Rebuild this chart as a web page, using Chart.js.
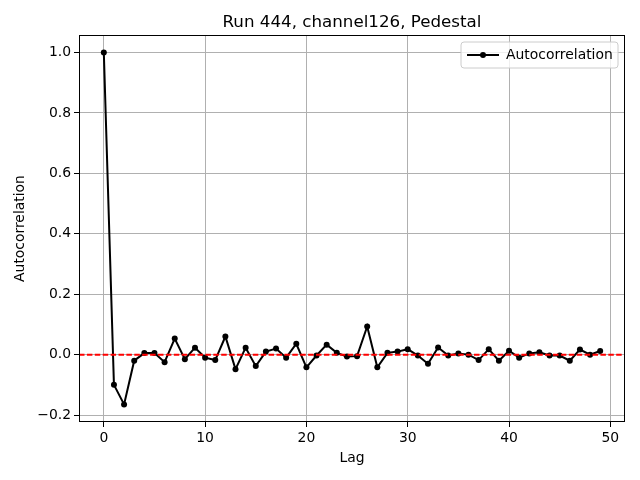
<!DOCTYPE html>
<html lang="en">
<head>
  <meta charset="UTF-8" />
  <title>Run 444, channel126, Pedestal</title>
  <script src="https://cdn.jsdelivr.net/npm/chart.js"></script>
  <style>
    html, body { margin: 0; padding: 0; background: #fff; }
    #wrap { width: 640px; height: 480px; }
  </style>
</head>
<body>
  <div id="wrap"><canvas id="acf" width="640" height="480"></canvas></div>

  <script>
    // autocorrelation values, lag 0..49
    const lags = Array.from({ length: 50 }, (_, i) => i);
    const autocorr = [
      1.0, -0.10, -0.165, -0.02, 0.005, 0.005, -0.025, 0.053, -0.015, 0.023,
      -0.01, -0.018, 0.06, -0.048, 0.023, -0.038, 0.01, 0.02, -0.01, 0.036,
      -0.042, -0.003, 0.033, 0.006, -0.006, -0.005, 0.093, -0.042, 0.006, 0.01,
      0.018, -0.003, -0.03, 0.024, -0.003, 0.004, 0.0, -0.018, 0.018, -0.02,
      0.013, -0.01, 0.004, 0.008, -0.003, -0.003, -0.02, 0.017, 0.0, 0.012
    ];
    const xTicks = [0, 10, 20, 30, 40, 50];
    const yTicks = [-0.2, 0.0, 0.2, 0.4, 0.6, 0.8, 1.0];
    const xRange = [-2.45, 51.45];
    const yRange = [-0.223, 1.058];
    const titleText = 'Run 444, channel126, Pedestal';
    const legendLabel = 'Autocorrelation';

    const FONT = 'DejaVu Sans, Liberation Sans, sans-serif';

    // matplotlib-like extras: title, full frame, legend box
    const extras = {
      id: 'extras',
      afterDraw(chart) {
        const { ctx, chartArea: a } = chart;
        ctx.save();
        ctx.strokeStyle = '#000';
        ctx.lineWidth = 1;
        ctx.strokeRect(a.left + 0.5, a.top + 0.5, a.right - a.left - 1, a.bottom - a.top - 1);

        ctx.fillStyle = '#000';
        ctx.font = '16.7px ' + FONT;
        ctx.textAlign = 'center';
        ctx.textBaseline = 'alphabetic';
        ctx.fillText(titleText, (a.left + a.right) / 2, 27);

        // legend
        const bx = 461, by = 42, bw = 157, bh = 26, r = 3;
        ctx.beginPath();
        ctx.moveTo(bx + r, by);
        ctx.arcTo(bx + bw, by, bx + bw, by + bh, r);
        ctx.arcTo(bx + bw, by + bh, bx, by + bh, r);
        ctx.arcTo(bx, by + bh, bx, by, r);
        ctx.arcTo(bx, by, bx + bw, by, r);
        ctx.closePath();
        ctx.fillStyle = 'rgba(255,255,255,0.8)';
        ctx.fill();
        ctx.strokeStyle = '#cccccc';
        ctx.stroke();

        ctx.strokeStyle = '#000';
        ctx.lineWidth = 2;
        ctx.beginPath();
        ctx.moveTo(467, 55);
        ctx.lineTo(499, 55);
        ctx.stroke();
        ctx.beginPath();
        ctx.arc(483, 55, 3, 0, Math.PI * 2);
        ctx.fillStyle = '#000';
        ctx.fill();

        ctx.font = '13.9px ' + FONT;
        ctx.textAlign = 'left';
        ctx.textBaseline = 'middle';
        ctx.fillText(legendLabel, 506, 55);
        ctx.restore();
      }
    };

    new Chart(document.getElementById('acf'), {
      type: 'scatter',
      data: {
        datasets: [
          {
            label: 'zero',
            data: [{ x: xRange[0], y: 0 }, { x: xRange[1], y: 0 }],
            showLine: true,
            borderColor: '#ff0000',
            borderWidth: 2,
            borderDash: [5.5, 2.4],
            pointRadius: 0,
            order: 1
          },
          {
            label: legendLabel,
            data: lags.map((l, i) => ({ x: l, y: autocorr[i] })),
            showLine: true,
            borderColor: '#000',
            backgroundColor: '#000',
            borderWidth: 2,
            pointRadius: 3,
            pointBorderWidth: 0,
            order: 2
          }
        ]
      },
      options: {
        responsive: false,
        animation: false,
        layout: { padding: { top: 35, right: 15, left: 0, bottom: 0 } },
        plugins: {
          legend: { display: false },
          tooltip: { enabled: false }
        },
        scales: {
          x: {
            type: 'linear',
            min: xRange[0],
            max: xRange[1],
            afterBuildTicks: s => { s.ticks = xTicks.map(v => ({ value: v })); },
            afterFit: s => { s.height = 58; },
            grid: { color: '#b0b0b0', lineWidth: 1, tickColor: '#000', tickLength: 5, drawTicks: true },
            border: { display: false },
            ticks: { color: '#000', font: { family: FONT, size: 13.9 }, padding: 3, maxRotation: 0,
                     callback: v => String(v) },
            title: { display: true, text: 'Lag', color: '#000', font: { family: FONT, size: 13.9 }, padding: { top: 4, bottom: 13 } }
          },
          y: {
            min: yRange[0],
            max: yRange[1],
            afterBuildTicks: s => { s.ticks = yTicks.map(v => ({ value: v })); },
            afterFit: s => { s.width = 79; },
            grid: { color: '#b0b0b0', lineWidth: 1, tickColor: '#000', tickLength: 5, drawTicks: true },
            border: { display: false },
            ticks: { color: '#000', font: { family: FONT, size: 13.9 }, padding: 3,
                     callback: v => v.toFixed(1).replace('-', '\u2212') },
            title: { display: true, text: 'Autocorrelation', color: '#000', font: { family: FONT, size: 13.9 }, padding: { top: 12, bottom: 4 } }
          }
        }
      },
      plugins: [extras]
    });
  </script>
</body>
</html>
